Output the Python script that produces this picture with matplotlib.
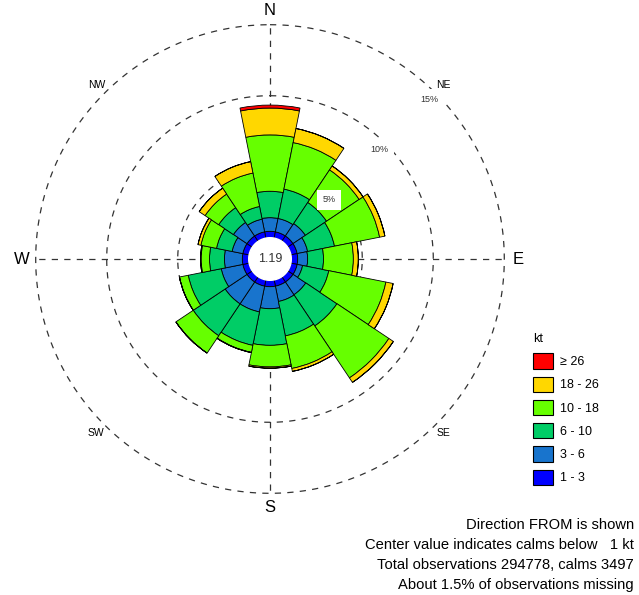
import numpy as np
import matplotlib
matplotlib.use('Agg')
import matplotlib.pyplot as plt
from matplotlib.patches import Patch

plt.rcParams['font.family'] = ['Liberation Sans', 'DejaVu Sans']

# wind rose data, percent of observations per direction sector
directions = ['N', 'NNE', 'NE', 'ENE', 'E', 'ESE', 'SE', 'SSE',
              'S', 'SSW', 'SW', 'WSW', 'W', 'WNW', 'NW', 'NNW']
speed_bins = ['1 - 3', '3 - 6', '6 - 10', '10 - 18', '18 - 26', '\u2265 26']
bin_colors = ['#0000FF', '#1874CD', '#00CD66', '#66FF00', '#FFD700', '#FF0000']

pct_1_3 = [0.45, 0.45, 0.45, 0.45, 0.45, 0.45, 0.45, 0.45,
           0.45, 0.45, 0.45, 0.45, 0.45, 0.45, 0.45, 0.45]
pct_3_6 = [0.96, 0.96, 1.05, 0.75, 0.70, 0.39, 1.08, 1.10,
           1.55, 1.85, 1.85, 1.55, 1.26, 0.77, 1.15, 0.91]
pct_6_10 = [1.86, 2.11, 1.79, 1.93, 1.12, 1.88, 2.64, 2.47,
            2.58, 2.40, 2.70, 2.37, 1.05, 1.12, 1.25, 0.91]
pct_10_18 = [3.97, 3.34, 2.76, 3.24, 2.10, 4.10, 4.40, 2.34,
             1.52, 0.50, 1.47, 0.63, 0.59, 1.12, 1.15, 2.40]
pct_18_26 = [1.89, 1.01, 0.33, 0.38, 0.35, 0.52, 0.38, 0.21,
             0.09, 0.02, 0.00, 0.00, 0.04, 0.21, 0.50, 0.82]
pct_26_up = [0.21, 0.00, 0.00, 0.00, 0.00, 0.00, 0.00, 0.00,
             0.00, 0.00, 0.00, 0.00, 0.00, 0.00, 0.00, 0.00]

calm_pct = 1.19
grid_levels = [5, 10, 15]
notes = ['Direction FROM is shown',
         'Center value indicates calms below   1 kt',
         'Total observations 294778, calms 3497',
         'About 1.5% of observations missing']

offset = 1.5   # hole in the middle, 10% of the 15% scale
rmax = 18.0

fig = plt.figure(figsize=(6.39, 5.95), dpi=100)
ax = fig.add_axes([14.4 / 639, 1 - 514.6 / 595, 511.2 / 639, 511.2 / 595],
                  projection='polar')
ax.set_theta_zero_location('N')
ax.set_theta_direction(-1)
ax.set_ylim(0, rmax)
ax.set_axis_off()

# grid
t = np.linspace(0, 2 * np.pi, 500)
for g in grid_levels:
    ax.plot(t, np.full_like(t, offset + g), ls=(0, (5, 5)), color='#333333',
            lw=0.9, zorder=1)
for a in [0, 90, 180, 270]:
    ax.plot([np.radians(a)] * 2, [0, offset + 15], ls=(0, (5, 5)),
            color='#333333', lw=0.9, zorder=1)

# stacked bars
theta = np.radians(np.arange(16) * 22.5)
width = 2 * np.pi / 16
bottom = np.full(16, offset)
for vals, col in zip([pct_1_3, pct_3_6, pct_6_10, pct_10_18, pct_18_26, pct_26_up],
                     bin_colors):
    vals = np.array(vals)
    ax.bar(theta, vals, width=width, bottom=bottom, color=col,
           edgecolor='black', linewidth=0.6, zorder=3, align='center')
    bottom = bottom + vals

# calm circle
ax.fill(t, np.full_like(t, offset), color='white', zorder=4)
ax.text(0, 0, '{:.2f}'.format(calm_pct), ha='center', va='center',
        fontsize=9, color='#333333', zorder=5)

# percent labels
for g in grid_levels:
    ax.text(np.radians(45), g + 0.9, '{}%'.format(g), ha='center', va='center',
            fontsize=6.5, color='#333333', zorder=6,
            bbox=dict(facecolor='white', edgecolor='none', pad=4))

# compass labels
for lab, a in zip(['N', 'E', 'S', 'W'], [0, 90, 180, 270]):
    ax.text(np.radians(a), 17.5, lab, ha='center', va='center', fontsize=12,
            color='black')
for lab, a in zip(['NE', 'SE', 'SW', 'NW'], [45, 135, 225, 315]):
    ax.text(np.radians(a), 17.3, lab, ha='center', va='center', fontsize=7.5,
            color='black')

# legend
handles = [Patch(facecolor=c, edgecolor='black', linewidth=0.8, label=l)
           for c, l in zip(bin_colors[::-1], speed_bins[::-1])]
leg = fig.legend(handles=handles, title='kt', loc='upper left',
                 bbox_to_anchor=(522 / 639, 1 - 322 / 595), frameon=False,
                 fontsize=9, title_fontsize=9, handlelength=1.6,
                 handleheight=1.5, labelspacing=0.64, handletextpad=0.5,
                 alignment='left')

# notes
for i, line in enumerate(notes):
    fig.text(634 / 639, 1 - (525 + i * 20) / 595, line, ha='right',
             va='center', fontsize=10.6, color='black')

fig.savefig('out.png', dpi=100)
